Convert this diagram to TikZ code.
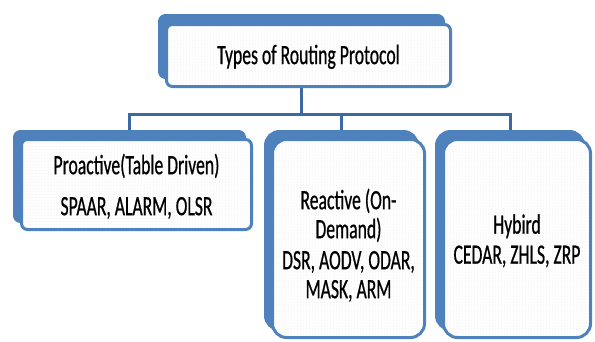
\documentclass[tikz,border=0pt]{standalone}
\usepackage{fontspec}
\setmainfont{Carlito}[FakeStretch=0.63, FakeBold=0.6]
\usetikzlibrary{patterns,positioning}
\definecolor{boxblue}{RGB}{79,129,189}
\definecolor{linkblue}{RGB}{60,104,164}

\begin{document}
\begin{tikzpicture}[x=1pt,y=-1pt,
	backbox/.style={fill=boxblue, draw=boxblue, line width=3pt, rounded corners=#1, inner sep=0pt},
	frontbox/.style={draw=boxblue, line width=3pt, rounded corners=#1, inner sep=0pt,
		preaction={fill=white}, pattern=dots, pattern color=black!13,
		align=center, font=\fontsize{28}{29}\selectfont},
	link/.style={draw=linkblue, line width=3pt}]

	\useasboundingbox (0,0) rectangle (595,341);

	% blue tabs behind the boxes
	\node[backbox=6pt, minimum width=284pt, minimum height=62pt] (typesb) at (301.5,46.5) {};
	\node[backbox=6pt, minimum width=230pt, minimum height=90pt] (prob) at (129.5,176.5) {};
	\node[backbox=14pt, minimum width=152pt, minimum height=198pt] (reab) at (341.5,230.5) {};
	\node[backbox=14pt, minimum width=147pt, minimum height=198pt] (hybb) at (510,230.5) {};

	% connectors
	\coordinate (bus) at (301.5,114);
	\draw[link] (typesb.south) -- (typesb.south |- bus);
	\draw[link] (prob.north) |- (hybb.north |- bus) -- (hybb.north);
	\draw[link] (reab.north |- bus) -- (reab.north);

	% boxes with text
	\node[frontbox=6pt, minimum width=284pt, minimum height=62pt] (types) at (308.5,55.5)
		{\rule{0pt}{22pt}Types of Routing Protocol};
	\node[frontbox=6pt, minimum width=230pt, minimum height=90pt] (pro) at (136.5,184.5)
		{\rule{0pt}{24pt}Proactive(Table Driven)\\[12pt] SPAAR, ALARM, OLSR};
	\node[frontbox=14pt, minimum width=152pt, minimum height=198pt] (rea) at (348.5,238.5)
		{\rule{0pt}{34pt}Reactive (On-\\ Demand)\\[2pt] DSR, AODV, ODAR,\\ MASK, ARM};
	\node[frontbox=14pt, minimum width=147pt, minimum height=198pt] (hyb) at (517,238.5)
		{\rule{0pt}{24pt}Hybird\\[1pt] CEDAR, ZHLS, ZRP};
\end{tikzpicture}
\end{document}
